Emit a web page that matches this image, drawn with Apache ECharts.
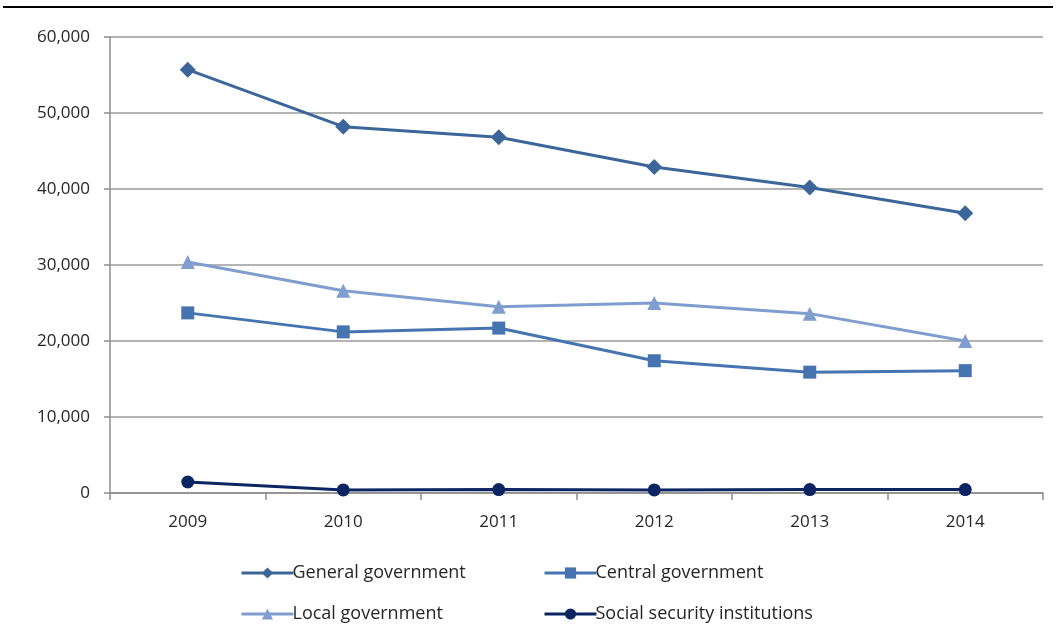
<!DOCTYPE html>
<html>
<head>
<meta charset="utf-8">
<script src="https://cdn.jsdelivr.net/npm/echarts@6/dist/echarts.min.js"></script>
<style>
html,body{margin:0;padding:0;background:#fff;}
#topline{position:absolute;left:3px;top:6px;width:1050px;height:2px;background:#000;}
#chart{width:1061px;height:628px;}
</style>
</head>
<body>
<div id="topline"></div>
<div id="chart"></div>
<script>
const categories = ['2009','2010','2011','2012','2013','2014'];
const generalGov = [55700, 48200, 46800, 42900, 40200, 36800];
const centralGov = [23700, 21200, 21700, 17400, 15900, 16100];
const localGov = [30400, 26600, 24500, 25000, 23600, 20000];
const socialSec = [1450, 400, 450, 400, 450, 450];
const yTicks = [0, 10000, 20000, 30000, 40000, 50000, 60000];

const font = 'Open Sans';
const txtColor = '#262626';

function mkSeries(name, data, color, symbol, size){
  return {
    name, type:'line', data, symbol, symbolSize:size,
    lineStyle:{color, width:3},
    itemStyle:{color},
    emphasis:{disabled:true}
  };
}
const series = [
  mkSeries('General government', generalGov, '#3C6699', 'diamond', 16),
  mkSeries('Central government', centralGov, '#4674B0', 'rect', 13),
  mkSeries('Local government', localGov, '#7F9ECF', 'triangle', 14),
  mkSeries('Social security institutions', socialSec, '#0B2462', 'circle', 13)
];

function leg(name, left, top){
  return {data:[name], left, top, itemWidth:52, itemHeight:14, itemGap:0,
    lineStyle:{width:3},
    textStyle:{fontFamily:font, fontSize:18, color:txtColor, padding:[0,0,0,-6]}, selectedMode:false, padding:0};
}

const chart = echarts.init(document.getElementById('chart'));
chart.setOption({
  animation:false,
  grid:{left:110, right:18, top:37, bottom:135},
  legend:[
    leg('General government', 240, 564),
    leg('Central government', 543, 564),
    leg('Local government', 240, 605),
    leg('Social security institutions', 543, 605)
  ],
  xAxis:{
    type:'category', data:categories, boundaryGap:true,
    axisLine:{lineStyle:{color:'#8C8C8C', width:1.5}},
    axisTick:{show:true, length:7, lineStyle:{color:'#8C8C8C', width:1.5}},
    axisLabel:{fontFamily:font, fontSize:17, color:txtColor, margin:21}
  },
  yAxis:{
    type:'value', min:0, max:60000, interval:10000,
    axisLine:{show:true, lineStyle:{color:'#8C8C8C', width:1.5}},
    axisTick:{show:true, length:6, lineStyle:{color:'#8C8C8C', width:1.5}},
    splitLine:{lineStyle:{color:'#9A9A9A', width:1.5}},
    axisLabel:{fontFamily:font, fontSize:17, color:txtColor, margin:20,
      formatter:v => yTicks.includes(v) ? v.toLocaleString('en-US') : ''}
  },
  series
});
</script>
</body>
</html>
